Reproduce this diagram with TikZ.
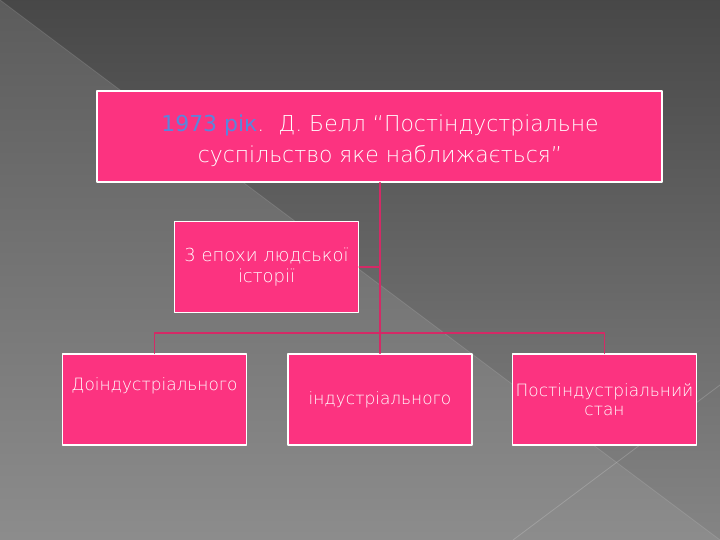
\documentclass[tikz,border=0pt]{standalone}
\usepackage{fontspec}
\setmainfont{DejaVu Sans ExtraLight}
\newfontfamily\yearfont{DejaVu Sans}
\usepackage{tikz}

\definecolor{slidepink}{HTML}{FC3380}
\definecolor{linkred}{HTML}{D42A66}
\definecolor{yearblue}{HTML}{5A86DC}

\begin{document}
\begin{tikzpicture}[x=1bp,y=-1bp,line cap=round,line join=round]
\tikzset{
    box/.style={draw=white, line width=1.4pt, fill=slidepink, text=white, align=center, inner sep=2pt},
    topbox/.style={box, minimum width=565bp, minimum height=91bp},
    smallbox/.style={box, minimum width=184bp, minimum height=91bp, font=\fontsize{17}{19}\selectfont},
    boxtext/.style={text=white, align=center, inner sep=0pt},
    link/.style={draw=linkred, line width=1.5pt},
}
% background
\useasboundingbox (0,0) rectangle (720,540);
\shade[top color=black!72, middle color=black!64, bottom color=black!48] (0,0) rectangle (720,540);
\shade[top color=black!64, middle color=black!56, bottom color=black!45] (0,0) -- (720,540) -- (0,540) -- cycle;
\draw[white, opacity=0.12, line width=0.8pt] (0,0) -- (720,540);
\draw[white, opacity=0.18, line width=0.8pt] (513,540) -- (720,385);
% boxes
\node[topbox] (bell) at (379.5,136.5) {};
\node[boxtext, font=\fontsize{22}{31}\selectfont] (belltext) at (380,141) {\textcolor{yearblue}{\yearfont 1973 рік}.~~Д. Белл “Постіндустріальне\\суспільство яке наближається”};
\node[smallbox, font=\fontsize{18}{21}\selectfont] (epochs) at (266.5,267) {3 епохи людської\\історії};
\node[smallbox] (pre) at (154.5,399.5) {};
\node[boxtext, font=\fontsize{17}{19}\selectfont] (pretext) at (154.5,386) {Доіндустріального};
\node[smallbox] (ind) at (380,399.5) {індустріального};
\node[smallbox] (post) at (604.5,399.5) {Постіндустріальний\\стан};
% connectors
\coordinate (fork) at (380,333);
\draw[link] (bell.south -| fork) -- (fork);
\draw[link] (epochs.east) -- (epochs.east -| fork);
\draw[link] (pre.north) |- (fork) -| (post.north);
\draw[link] (fork) -- (ind.north);
\end{tikzpicture}
\end{document}
